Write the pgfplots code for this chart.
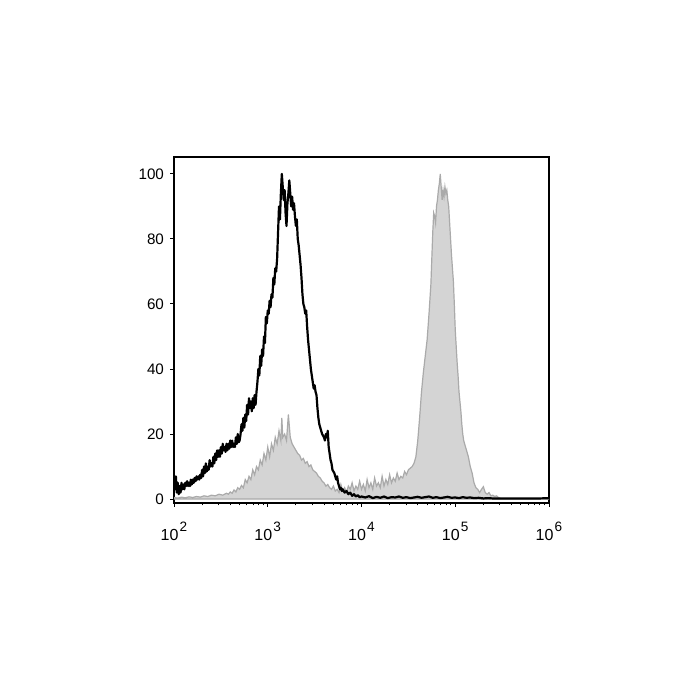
\documentclass[border=0pt]{standalone}
\usepackage{fontspec}
\setmainfont{Liberation Sans}
\usepackage{pgfplots}
\pgfplotsset{compat=1.18}
\definecolor{fillgray}{RGB}{212,212,212}
\definecolor{linegray}{RGB}{170,170,170}
\newcommand{\ex}[1]{\fontsize{8}{9}\selectfont 10\hspace{0.6pt}\raisebox{0.55em}{\fontsize{6.8}{6.8}\selectfont #1}}
\begin{document}
\begin{tikzpicture}
\path[use as bounding box] (-87pt,-98.5pt) rectangle (263pt,251.5pt);
\begin{axis}[
  at={(0,0)}, anchor=south west,
  width=187.5pt, height=173pt, scale only axis,
  xmin=2, xmax=6, ymin=-1.2, ymax=105.2,
  xtick={2,3,4,5,6},
  xticklabels={\ex{2},\ex{3},\ex{4},\ex{5},\ex{6}},
  minor xtick={2.301,2.477,2.602,2.699,2.778,2.845,2.903,2.954,
               3.301,3.477,3.602,3.699,3.778,3.845,3.903,3.954,
               4.301,4.477,4.602,4.699,4.778,4.845,4.903,4.954,
               5.301,5.477,5.602,5.699,5.778,5.845,5.903,5.954},
  ytick={0,20,40,60,80,100},
  tick pos=left, tick align=outside,
  major tick length=2pt, minor tick length=1.2pt,
  tick style={black, line width=0.5pt},
  axis line style={line width=0.65pt},
  /pgf/number format/assume math mode=true,
  yticklabel style={font=\fontsize{7.6}{8}\selectfont, xshift=0.5pt},
  xticklabel style={yshift=-4pt},
]
\addplot[fill=fillgray, draw=linegray, line width=0.6pt] coordinates {
(2.00,0.5)(2.04,0.3)(2.08,0.6)(2.12,0.4)(2.16,0.7)(2.20,0.5)(2.24,0.8)(2.28,0.6)
(2.32,1.0)(2.36,0.8)(2.40,1.2)(2.44,1.0)(2.48,1.5)(2.52,1.2)(2.56,1.8)(2.58,1.5)
(2.60,2.2)(2.62,1.8)(2.64,2.8)(2.66,2.2)(2.68,3.5)(2.70,3.0)(2.72,4.2)(2.74,3.5)
(2.76,6.0)(2.78,5.0)(2.80,7.0)(2.82,6.0)(2.84,9.0)(2.86,7.5)(2.88,10)(2.90,9)
(2.92,12)(2.94,10.5)(2.96,14)(2.98,12)(3.00,16)(3.02,13)(3.04,17)(3.06,15)
(3.08,19)(3.10,17)(3.12,21)(3.14,18)(3.15,25)(3.16,19)(3.18,20)(3.20,18)
(3.22,26)(3.24,19)(3.26,17)(3.28,16)(3.30,15)(3.32,14)(3.34,13.5)(3.36,12)
(3.38,12.5)(3.40,11)(3.42,11.5)(3.44,10)(3.46,10.5)(3.48,9)(3.50,8.5)(3.52,8)
(3.54,7)(3.56,6.5)(3.58,5.5)(3.60,5)(3.62,4)(3.64,4.5)(3.66,3.5)(3.68,3)
(3.70,4)(3.72,2.5)(3.74,3)(3.76,2)(3.78,4.5)(3.80,2.5)(3.82,3.5)(3.84,2)
(3.86,4)(3.88,3)(3.90,5)(3.92,2.5)(3.94,4)(3.96,3)(3.98,5.5)(4.00,3)
(4.02,4.5)(4.04,2.5)(4.06,6)(4.08,3.5)(4.10,5)(4.12,3)(4.14,6.5)(4.16,4)
(4.18,5)(4.20,3.5)(4.22,7)(4.24,4)(4.26,6)(4.28,4.5)(4.30,7.5)(4.32,5)
(4.34,6.5)(4.36,5.5)(4.38,8)(4.40,6)(4.42,7)(4.44,6.5)(4.46,8.5)(4.48,7.5)
(4.50,9)(4.52,9.5)(4.54,10)(4.56,11)(4.58,13)(4.60,18)(4.62,25)(4.64,33)
(4.66,39)(4.68,44)(4.70,49)(4.72,57)(4.74,66)(4.75,74)(4.76,82)(4.77,88)
(4.78,87)(4.79,85)(4.80,90)(4.81,92)(4.82,95)(4.83,97)(4.84,100)(4.85,96)
(4.86,92)(4.87,95)(4.88,93)(4.89,96)(4.90,94)(4.91,95)(4.92,92)(4.93,90)
(4.94,85)(4.95,80)(4.96,75)(4.97,71)(4.98,67)(4.99,60)(5.00,52)(5.01,47)
(5.02,42)(5.03,38)(5.04,33)(5.05,30)(5.06,27)(5.07,23)(5.08,20)(5.09,18)
(5.10,17)(5.12,15)(5.14,13)(5.16,10)(5.18,8)(5.20,5)(5.22,3.5)(5.24,3)
(5.26,2)(5.28,3)(5.30,3.8)(5.32,2)(5.34,1.5)(5.36,2)(5.38,1)(5.40,1.2)
(5.42,0.8)(5.44,1)(5.46,0.5)(5.48,0.2)(5.50,0)(6.00,0)
} \closedcycle;
\addplot[black, line width=1.1pt, line join=round] coordinates {
(2.00,6)(2.01,3)(2.02,7)(2.03,2)(2.04,5)(2.05,1.5)(2.06,4)(2.07,2)
(2.08,5)(2.09,3)(2.10,4.5)(2.11,3)(2.12,5)(2.13,4)(2.14,5.5)(2.15,4)
(2.16,5)(2.17,4)(2.18,6)(2.19,4.5)(2.20,6)(2.21,5)(2.22,6.5)(2.23,5.5)
(2.24,7)(2.25,6)(2.26,7)(2.27,6)(2.28,7.5)(2.29,6.5)(2.30,9)(2.31,7)
(2.32,10)(2.33,8)(2.34,11)(2.35,8.5)(2.36,10)(2.37,9)(2.38,12)(2.39,10)
(2.40,11)(2.41,10)(2.42,13)(2.43,11)(2.44,14)(2.45,12)(2.46,15)(2.47,13)
(2.48,15)(2.49,13)(2.50,16)(2.51,14)(2.52,17)(2.53,15)(2.54,16)(2.55,14.5)
(2.56,17)(2.57,15)(2.58,17)(2.59,15.5)(2.60,18)(2.61,16)(2.62,18)(2.63,16)
(2.64,17)(2.65,16)(2.66,19)(2.67,17)(2.68,20)(2.69,17.5)(2.70,18)(2.71,20)
(2.72,23)(2.73,21)(2.74,25)(2.75,22)(2.76,26)(2.77,24)(2.78,29)(2.79,26)
(2.80,31)(2.81,28)(2.82,30)(2.83,27)(2.84,31)(2.85,28)(2.86,32)(2.87,29)
(2.88,33)(2.89,36)(2.90,40)(2.91,38)(2.92,44)(2.93,41)(2.94,46)(2.95,44)
(2.96,50)(2.97,48)(2.98,56)(2.99,54)(3.00,58)(3.01,57)(3.02,61)(3.03,59)
(3.04,63)(3.05,62)(3.06,68)(3.07,66)(3.08,71)(3.09,70)(3.10,74)(3.11,82)
(3.12,90)(3.13,86)(3.14,94)(3.15,100)(3.16,96)(3.17,92)(3.18,95)(3.19,88)
(3.20,84)(3.21,91)(3.22,94)(3.23,98)(3.24,94)(3.25,90)(3.26,93)(3.27,89)
(3.28,91)(3.29,87)(3.30,84)(3.31,86)(3.32,80)(3.33,78)(3.34,75)(3.35,72)
(3.36,68)(3.37,63)(3.38,60)(3.39,59)(3.40,57)(3.41,58)(3.42,53)(3.43,49)
(3.44,46)(3.45,43)(3.46,40)(3.47,38)(3.48,36)(3.49,34)(3.50,35)(3.51,33)
(3.52,32)(3.53,28)(3.54,25)(3.55,23)(3.56,22)(3.57,21)(3.58,20)(3.59,19.5)
(3.60,19)(3.61,18)(3.62,20)(3.63,19)(3.64,21)(3.65,16)(3.66,14)(3.67,12)
(3.68,11)(3.69,9)(3.70,8.5)(3.71,8)(3.72,7)(3.73,6)(3.74,7)(3.75,5)
(3.76,4)(3.77,3)(3.78,3.5)(3.79,2.5)(3.80,3)(3.82,2)(3.84,2.5)(3.86,1.5)
(3.88,2)(3.90,1)(3.92,1.5)(3.94,0.8)(3.96,1.2)(3.98,0.6)(4.00,0.8)
(4.04,0.5)(4.08,0.9)(4.12,0.3)(4.16,0.7)(4.20,0.4)(4.24,0.8)(4.28,0.3)
(4.32,0.6)(4.36,0.5)(4.40,0.8)(4.44,0.4)(4.48,0.6)(4.52,0.3)(4.56,0.5)
(4.60,0.7)(4.64,0.4)(4.68,0.6)(4.72,0.8)(4.76,0.4)(4.80,0.6)(4.84,0.3)
(4.88,0.5)(4.92,0.7)(4.96,0.4)(5.00,0.5)(5.04,0.3)(5.08,0.6)(5.12,0.4)
(5.16,0.5)(5.20,0.3)(5.25,0.4)(5.30,0.2)(5.35,0.3)(5.40,0.2)(5.50,0.2)
(5.60,0.2)(5.70,0.2)(5.80,0.2)(5.90,0.2)(6.00,0.3)
};
\end{axis}
\end{tikzpicture}
\end{document}
